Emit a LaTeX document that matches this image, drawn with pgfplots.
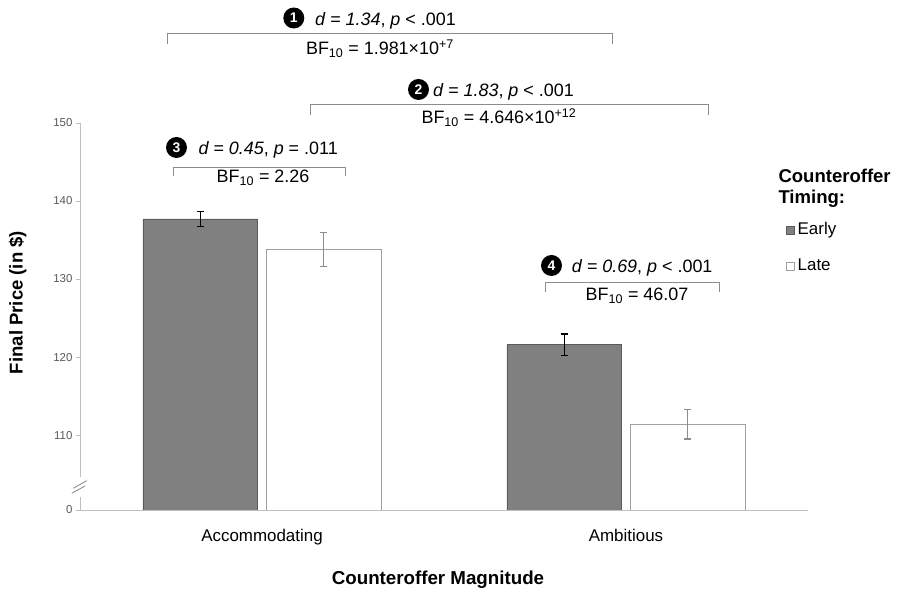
\documentclass[border=0pt]{standalone}
\usepackage{pgfplots}
\pgfplotsset{compat=1.18}
\usepackage{fontspec}
\setmainfont{Liberation Sans}
\definecolor{earlyfill}{HTML}{808080}
\definecolor{earlydraw}{HTML}{5A5A5A}
\definecolor{latedraw}{HTML}{A0A0A0}
\definecolor{axisgray}{HTML}{BFBFBF}
\definecolor{brgray}{HTML}{8C8C8C}
\definecolor{ticktext}{HTML}{595959}
\definecolor{lateerr}{HTML}{8C8C8C}
\begin{document}
\begin{tikzpicture}
\useasboundingbox (0,0) rectangle (898bp,592bp);
\begin{axis}[
  at={(80bp,82bp)}, anchor=south west,
  scale only axis, width=728bp, height=387bp,
  xmin=-0.5, xmax=1.5, ymin=100.4, ymax=150,
  axis lines*=left,
  axis line style={draw=none},
  xtick={0,1}, xticklabels={Accommodating,Ambitious},
  x tick style={draw=none},
  ytick={100.4,110,120,130,140,150},
  yticklabels={0,110,120,130,140,150},
  tick align=outside,
  y tick style={draw=axisgray, line width=0.8bp},
  major tick length=4bp,
  /pgf/number format/assume math mode=true,
  yticklabel style={font=\fontsize{11.5}{13}\selectfont, text=ticktext},
  xticklabel style={font=\fontsize{17}{20}\selectfont, anchor=base, yshift=-27bp},
]
\addplot[ybar, bar width=0.314, bar shift=0pt, fill=earlyfill, draw=earlydraw, line width=0.8bp,
  error bars/.cd, y dir=both, y explicit,
  error bar style={black, line width=1.2bp},
  error mark options={rotate=90, mark size=3.5bp, black, line width=1.2bp}]
  coordinates {(-0.17,137.7) +- (0,1.0) (0.83,121.6) +- (0,1.35)};
\addplot[ybar, bar width=0.314, bar shift=0pt, fill=white, draw=latedraw, line width=0.8bp,
  error bars/.cd, y dir=both, y explicit,
  error bar style={lateerr, line width=1.2bp},
  error mark options={rotate=90, mark size=3.5bp, lateerr, line width=1.2bp}]
  coordinates {(0.17,133.8) +- (0,2.15) (1.17,111.4) +- (0,1.9)};
\end{axis}
\begin{scope}[x=1bp, y=-1bp, yshift=592bp]
% axis lines
\draw[axisgray, line width=0.8bp] (80,510)--(808,510);
\draw[axisgray, line width=0.8bp] (80,123)--(80,477);
\draw[axisgray, line width=0.8bp] (80,497)--(80,510);
\draw[axisgray!70!black, line width=0.8bp] (73.3,488.3)--(86.7,480.7);
\draw[axisgray!70!black, line width=0.8bp] (71.7,493.3)--(85,486);
% axis labels
\node[rotate=90, anchor=base, font=\bfseries\fontsize{18.6}{22}\selectfont] at (22.7,302.5) {Final Price (in \$)};
\node[anchor=base, font=\bfseries\fontsize{18.8}{22}\selectfont] at (438,584.5) {Counteroffer Magnitude};
% legend
\node[anchor=base west, inner sep=0pt, font=\bfseries\fontsize{18.6}{22}\selectfont] at (778.3,183) {Counteroffer};
\node[anchor=base west, inner sep=0pt, font=\bfseries\fontsize{18.6}{22}\selectfont] at (778.3,204) {Timing:};
\draw[earlydraw, fill=earlyfill, line width=0.6bp] (786,226.5) rectangle (794.5,234);
\node[anchor=base west, font=\fontsize{17}{20}\selectfont, inner sep=0] at (797.5,235) {Early};
\draw[latedraw, fill=white, line width=0.6bp] (786,262) rectangle (794.5,270);
\node[anchor=base west, font=\fontsize{17}{20}\selectfont, inner sep=0] at (797.5,271) {Late};
% annotations
\tikzset{badge/.style={circle, fill=black, minimum size=21bp, inner sep=0pt, text=white, font=\bfseries\fontsize{14}{15}\selectfont},
  ann/.style={font=\fontsize{18}{21}\selectfont, inner sep=0pt},
  br/.style={draw=brgray, line width=0.8bp}}
% 1
\node[badge] at (293.8,18) {1};
\node[ann, anchor=base west] at (315,25.7) {\textit{d = 1.34}, \textit{p} < .001};
\draw[br] (167,44)--(167,33)--(612,33)--(612,44);
\node[ann, anchor=base] at (380,55) {BF\textsubscript{10} = 1.981×10\textsuperscript{+7}};
% 2
\node[badge] at (418.5,89.5) {2};
\node[ann, anchor=base west] at (433,97) {\textit{d = 1.83}, \textit{p} < .001};
\draw[br] (310,115)--(310,104)--(708,104)--(708,115);
\node[ann, anchor=base] at (499,124) {BF\textsubscript{10} = 4.646×10\textsuperscript{+12}};
% 3
\node[badge] at (176.5,147.5) {3};
\node[ann, anchor=base west] at (198.3,155) {\textit{d = 0.45}, \textit{p} = .011};
\draw[br] (173,176)--(173,167)--(345,167)--(345,176);
\node[ann, anchor=base] at (263,183) {BF\textsubscript{10} = 2.26};
% 4
\node[badge] at (551.5,265.5) {4};
\node[ann, anchor=base west] at (571.7,273) {\textit{d = 0.69}, \textit{p} < .001};
\draw[br] (545,292)--(545,282)--(719,282)--(719,292);
\node[ann, anchor=base] at (637,301) {BF\textsubscript{10} = 46.07};
\end{scope}
\end{tikzpicture}
\end{document}
